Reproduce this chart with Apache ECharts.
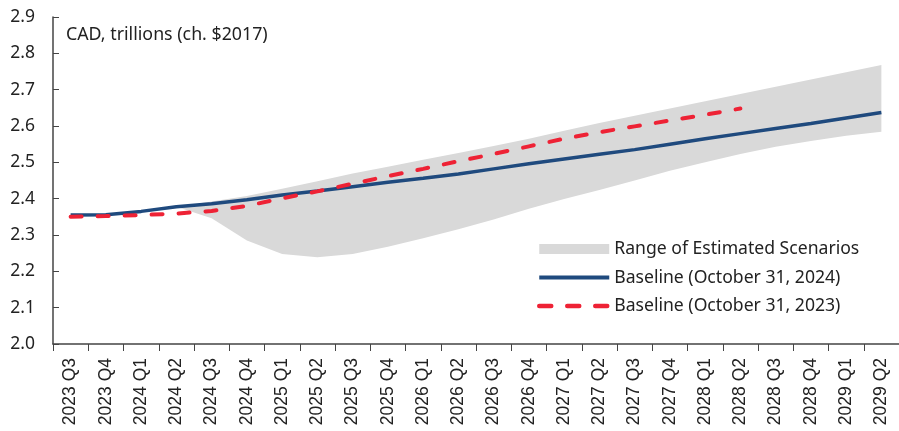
<!DOCTYPE html>
<html>
<head>
<meta charset="utf-8">
<script src="https://cdn.jsdelivr.net/npm/echarts@6/dist/echarts.min.js"></script>
<style>
  html, body { margin: 0; padding: 0; background: #fff; }
  #chart { width: 899px; height: 431px; }
</style>
</head>
<body>
<div id="chart"></div>
<script>
const quarters = [
  '2023 Q3', '2023 Q4',
  '2024 Q1', '2024 Q2', '2024 Q3', '2024 Q4',
  '2025 Q1', '2025 Q2', '2025 Q3', '2025 Q4',
  '2026 Q1', '2026 Q2', '2026 Q3', '2026 Q4',
  '2027 Q1', '2027 Q2', '2027 Q3', '2027 Q4',
  '2028 Q1', '2028 Q2', '2028 Q3', '2028 Q4',
  '2029 Q1', '2029 Q2'
];

// Baseline (October 31, 2024)
const baseline2024 = [
  2.355, 2.356,
  2.365, 2.378, 2.386, 2.397,
  2.410, 2.421, 2.433, 2.445,
  2.456, 2.468, 2.482, 2.496,
  2.509, 2.522, 2.535, 2.550,
  2.565, 2.579, 2.593, 2.607,
  2.622, 2.637
];

// Baseline (October 31, 2023) - ends 2028 Q2
const baseline2023 = [
  2.350, 2.352,
  2.355, 2.359, 2.366, 2.380,
  2.401, 2.420, 2.441, 2.462,
  2.482, 2.503, 2.523, 2.544,
  2.565, 2.583, 2.599, 2.615,
  2.631, 2.648, null, null,
  null, null
];

// Range of estimated scenarios (lower / upper edge)
const rangeLow = [
  null, null,
  null, 2.378, 2.346, 2.285,
  2.248, 2.239, 2.248, 2.268,
  2.291, 2.316, 2.343, 2.372,
  2.399, 2.424, 2.450, 2.477,
  2.500, 2.523, 2.543, 2.559,
  2.573, 2.584
];
const rangeHigh = [
  null, null,
  null, 2.378, 2.392, 2.407,
  2.427, 2.448, 2.469, 2.488,
  2.507, 2.526, 2.545, 2.565,
  2.587, 2.608, 2.628, 2.648,
  2.668, 2.688, 2.708, 2.728,
  2.748, 2.768
];

const yTicks = ['2.0', '2.1', '2.2', '2.3', '2.4', '2.5', '2.6', '2.7', '2.8', '2.9'];

const rangeSpan = rangeHigh.map((v, i) =>
  v == null || rangeLow[i] == null ? '-' : +(v - rangeLow[i]).toFixed(4));
const rangeBase = rangeLow.map(v => v == null ? '-' : v);

const noDot = { color: 'rgba(0,0,0,0)', borderWidth: 0, opacity: 0 };

const chart = echarts.init(document.getElementById('chart'));
const option = {
  animation: false,
  backgroundColor: '#fff',
  title: {
    text: 'CAD, trillions (ch. $2017)',
    left: 66,
    top: 26,
    padding: 0,
    textStyle: { fontFamily: 'Noto Sans', fontSize: 17.8, fontWeight: 'normal', color: '#222' }
  },
  legend: {
    orient: 'vertical',
    left: 537,
    top: 239,
    padding: 0,
    itemWidth: 70,
    itemHeight: 10,
    itemGap: 8.5,
    textStyle: { fontFamily: 'Noto Sans', fontSize: 17.6, color: '#222', lineHeight: 20 },
    data: [
      { name: 'Range of Estimated Scenarios', icon: 'rect', itemStyle: { color: '#d9d9d9' } },
      { name: 'Baseline (October 31, 2024)', itemStyle: noDot,
        lineStyle: { width: 4, color: '#1f4a7e' } },
      { name: 'Baseline (October 31, 2023)', itemStyle: noDot,
        lineStyle: { width: 4.5, color: '#ee2235', type: [12, 16], cap: 'round' } }
    ]
  },
  grid: { left: 53, right: -4, top: 17, bottom: 87 },
  xAxis: {
    type: 'category',
    data: quarters,
    boundaryGap: true,
    axisLine: { lineStyle: { color: '#444', width: 1.5 } },
    axisTick: { show: true, length: 7, lineStyle: { color: '#444' } },
    axisLabel: {
      rotate: 90,
      interval: 0,
      margin: 14,
      fontFamily: 'Liberation Sans',
      fontSize: 17.5,
      color: '#222'
    }
  },
  yAxis: {
    type: 'value',
    min: 2.0,
    max: 2.9,
    interval: 0.1,
    axisLine: { show: true, lineStyle: { color: '#444', width: 1.5 } },
    axisTick: { show: true, inside: true, length: 6, lineStyle: { color: '#444' } },
    splitLine: { show: false },
    axisLabel: {
      margin: 18,
      fontFamily: 'Noto Sans',
      fontSize: 17.5,
      color: '#222',
      formatter: (v) => yTicks[Math.round((v - 2.0) * 10)]
    }
  },
  series: [
    {
      name: 'rangeBase',
      type: 'line',
      stack: 'band',
      data: rangeBase,
      symbol: 'none',
      lineStyle: { opacity: 0 },
      areaStyle: { opacity: 0 },
      silent: true
    },
    {
      name: 'Range of Estimated Scenarios',
      type: 'line',
      stack: 'band',
      data: rangeSpan,
      symbol: 'none',
      itemStyle: { color: '#d9d9d9' },
      lineStyle: { width: 0, opacity: 0 },
      areaStyle: { color: '#d9d9d9', opacity: 1 }
    },
    {
      name: 'Baseline (October 31, 2024)',
      type: 'line',
      data: baseline2024,
      symbol: 'none',
      itemStyle: { color: '#1f4a7e' },
      lineStyle: { color: '#1f4a7e', width: 3.5 }
    },
    {
      name: 'Baseline (October 31, 2023)',
      type: 'line',
      data: baseline2023,
      symbol: 'none',
      itemStyle: { color: '#ee2235' },
      lineStyle: { color: '#ee2235', width: 4, type: [11, 16], cap: 'round' }
    }
  ]
};
chart.setOption(option);
</script>
</body>
</html>
